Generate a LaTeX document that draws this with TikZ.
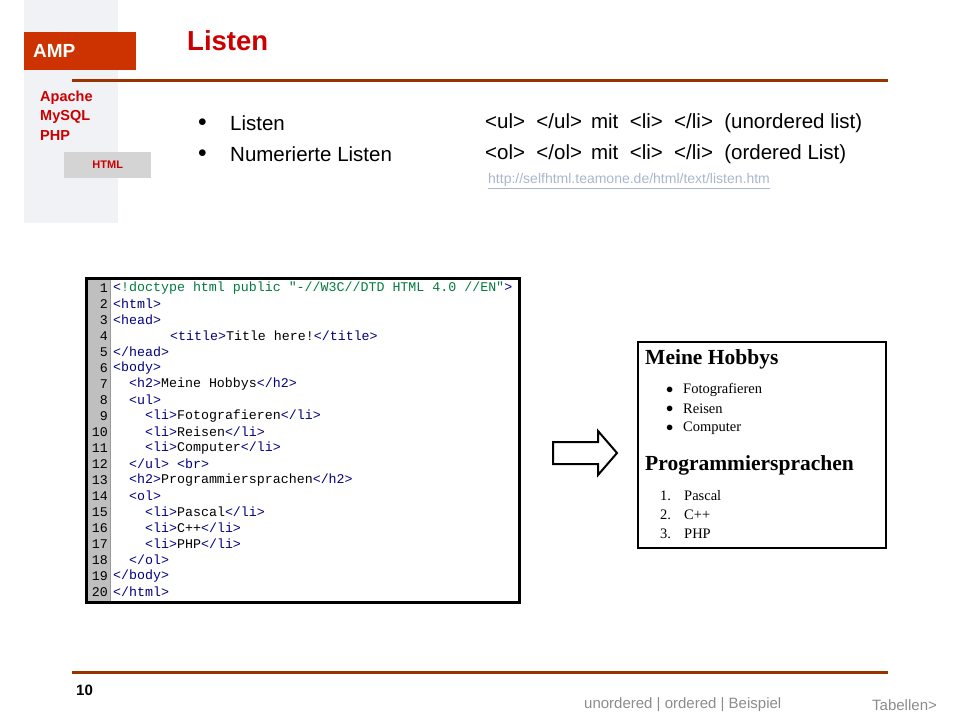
\documentclass[tikz,border=0pt]{standalone}
\usepackage{fontspec}
\setmainfont{Liberation Sans}
\newfontfamily\codefont{Liberation Mono}
\newfontfamily\pagefont{Liberation Serif}
\usetikzlibrary{positioning}
\definecolor{ampred}{HTML}{CC3300}
\definecolor{titlered}{HTML}{CC0000}
\definecolor{rulebrown}{HTML}{993300}
\definecolor{sidegrey}{HTML}{F0F2F5}
\definecolor{tagblue}{HTML}{000080}
\definecolor{dtgreen}{HTML}{007A3D}
\definecolor{linkgrey}{HTML}{A9B7CC}
\colorlet{footgrey}{black!45}
\newcommand{\tg}[1]{\textcolor{tagblue}{#1}}
\tikzset{
  txt/.style = {anchor = west, inner sep = 0pt},
  code/.style = {txt, font = \codefont\fontsize{13.3}{13.3}\selectfont},
  lnum/.style = {anchor = east, inner sep = 0pt, font = \codefont\fontsize{13.3}{13.3}\selectfont},
  bul/.style = {txt, font = \fontsize{20.5}{20.5}\selectfont},
  side/.style = {txt, text = titlered, font = \bfseries\fontsize{14.5}{14.5}\selectfont},
  page/.style = {txt, font = \pagefont\fontsize{14.5}{14.5}\selectfont},
  pagehead/.style = {txt, font = \pagefont\bfseries\fontsize{21.5}{21.5}\selectfont},
}
\begin{document}
\begin{tikzpicture}[x = 1pt, y = -1pt]
\useasboundingbox (0, 0) rectangle (960, 720);

% sidebar
\fill [sidegrey] (24, 0) rectangle (118, 223);
\fill [ampred] (24, 32) rectangle (136, 70);
\node (AMP) [txt, text = white, font = \bfseries\fontsize{19}{19}\selectfont] at (33, 51) {AMP};
\node (Apache) [side] at (40, 98) {Apache};
\node (MySQL) [side] at (40, 117) {MySQL};
\node (PHP) [side] at (40, 136) {PHP};
\node (HTML) [fill = black!17, minimum width = 87pt, minimum height = 26pt, anchor = north west,
  text = titlered, font = \bfseries\fontsize{11}{11}\selectfont] at (64, 152) {HTML};

% title and rules
\node (Title) [txt, text = titlered, font = \bfseries\fontsize{27.5}{27.5}\selectfont] at (187, 41) {Listen};
\draw [rulebrown, line width = 3pt] (72, 80) -- (888, 80);
\draw [rulebrown, line width = 3pt] (72, 672) -- (888, 672);

% bullets
\node (B1) [txt, font = \fontsize{16}{16}\selectfont] at (198, 123) {$\bullet$};
\node (B2) [txt, font = \fontsize{16}{16}\selectfont] at (198, 154) {$\bullet$};
\node (L1) [bul] at (230, 123) {Listen};
\node (L2) [bul] at (230, 154) {Numerierte Listen};
\node (T1) [bul] at (485, 123) {<ul>\ \ </ul>\hspace{9pt}mit\ \ <li>\ \ </li>\ \ (unordered list)};
\node (T2) [bul] at (485, 154) {<ol>\ \ </ol>\hspace{9pt}mit\ \ <li>\ \ </li>\ \ (ordered List)};
\node (Link) [txt, text = linkgrey, font = \fontsize{14}{14}\selectfont] at (488, 181)
  {\underline{http://selfhtml.teamone.de/html/text/listen.htm}};

% source code
\fill [black!25] (88, 280) rectangle (110, 601);
\draw [line width = 3pt] (86.5, 278.5) rectangle (519.5, 602.5);
\draw [black!40] (110, 280) -- (110, 601);
\foreach \n in {1, ..., 20}
  \node [lnum] at (108, 272 + 16 * \n) {\n};
\node (C1) [code] at (113, 288) {\tg{<}\textcolor{dtgreen}{!doctype html public "-//W3C//DTD HTML 4.0 //EN"}\tg{>}};
\node (C2) [code] at (113, 304) {\tg{<html>}};
\node (C3) [code] at (113, 320) {\tg{<head>}};
\node (C4) [code] at (170, 336) {\tg{<title>}Title here!\tg{</title>}};
\node (C5) [code] at (113, 352) {\tg{</head>}};
\node (C6) [code] at (113, 368) {\tg{<body>}};
\node (C7) [code] at (129, 384) {\tg{<h2>}Meine Hobbys\tg{</h2>}};
\node (C8) [code] at (129, 400) {\tg{<ul>}};
\node (C9) [code] at (145, 416) {\tg{<li>}Fotografieren\tg{</li>}};
\node (C10) [code] at (145, 432) {\tg{<li>}Reisen\tg{</li>}};
\node (C11) [code] at (145, 448) {\tg{<li>}Computer\tg{</li>}};
\node (C12) [code] at (129, 464) {\tg{</ul> <br>}};
\node (C13) [code] at (129, 480) {\tg{<h2>}Programmiersprachen\tg{</h2>}};
\node (C14) [code] at (129, 496) {\tg{<ol>}};
\node (C15) [code] at (145, 512) {\tg{<li>}Pascal\tg{</li>}};
\node (C16) [code] at (145, 528) {\tg{<li>}C++\tg{</li>}};
\node (C17) [code] at (145, 544) {\tg{<li>}PHP\tg{</li>}};
\node (C18) [code] at (129, 560) {\tg{</ol>}};
\node (C19) [code] at (113, 576) {\tg{</body>}};
\node (C20) [code] at (113, 592) {\tg{</html>}};

% arrow
\draw [line width = 2pt, line join = miter] (553, 442) -- (598, 442) -- (598, 431) -- (617, 453)
  -- (598, 475) -- (598, 464) -- (553, 464) -- cycle;

% rendered page
\draw [line width = 2pt] (638, 342) rectangle (886, 548);
\node (H1) [pagehead] at (645, 359) {Meine Hobbys};
\foreach \t/\y in {Fotografieren/390, Reisen/409, Computer/428} {
  \node [page] at (666, \y) {$\bullet$};
  \node [page] at (683, \y) {\t};
}
\node (H2) [pagehead] at (645, 465) {Programmiersprachen};
\foreach \i/\t/\y in {1/Pascal/496, 2/C++/515, 3/PHP/534} {
  \node [page] at (660, \y) {\i.};
  \node [page] at (684, \y) {\t};
}

% footer
\node (Num) [txt, font = \bfseries\fontsize{15}{15}\selectfont] at (76, 690) {10};
\node (Nav) [txt, text = footgrey, font = \fontsize{15}{15}\selectfont] at (584, 705) {unordered | ordered | Beispiel};
\node (Next) [txt, text = footgrey, font = \fontsize{15}{15}\selectfont] at (872, 705) {Tabellen>};
\end{tikzpicture}
\end{document}
